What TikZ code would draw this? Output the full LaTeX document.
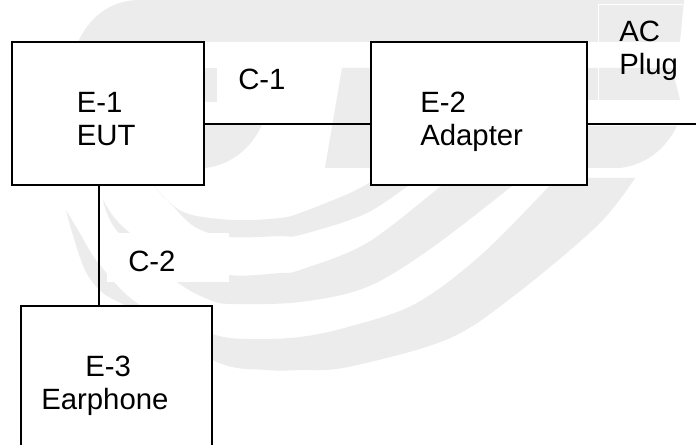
\documentclass[tikz,border=0pt]{standalone}
\usepackage{fontspec}
\setmainfont{Liberation Sans}
\tikzset{
  unitbox/.style={draw=black,line width=1.5pt,fill=white,anchor=north west,inner sep=0pt},
  wire/.style={draw=black,line width=1.5pt},
  lbl/.style={inner sep=0pt,anchor=base west,font=\fontsize{22}{24.4}\selectfont},
  wm/.style={fill=black!7.5,draw=none},
  curve/.style={smooth,tension=0.55}
}
\begin{document}
\begin{tikzpicture}[x=0.75pt,y=-0.75pt]
\useasboundingbox (0,0) rectangle (696,445);
\clip (0,0) rectangle (696,445);
\fill[white] (0,0) rectangle (696,445);
% watermark: top band
\fill[wm] (78,42) .. controls (88,20) and (108,0) .. (140,0) -- (684,0) -- (680,42) -- cycle;
% letter pieces
\fill[wm] (203,68) rectangle (217,102);
\fill[wm] (342,68) -- (672,68) -- (680,100) -- (500,100) -- (500,168) -- (325,168) -- cycle;
\fill[wm] (203,125) -- (262,125) .. controls (250,150) and (230,165) .. (205,168) -- (203,168) -- cycle;
\fill[wm] (580,126) -- (677,126) .. controls (665,150) and (645,165) .. (620,168) -- (580,168) -- cycle;
\draw[white,line width=0.5pt] (683,4) -- (598,4) -- (598,101) -- (680,101);
% band A
\fill[wm] plot[curve] coordinates {(153,185) (183,212) (233,220) (280,218) (300,213) (350,193) (378,178)}
  -- plot[curve] coordinates {(418,178) (367,213) (300,235) (280,236) (229,237) (195,227) (170,203) (153,185)} -- cycle;
% band B
\fill[wm] plot[curve] coordinates {(103,200) (122,226) (170,260) (229,275) (280,273) (300,270) (367,243) (440,187) (452,178)}
  -- plot[curve] coordinates {(522,178) (433,247) (367,287) (300,302) (233,304) (210,300) (177,282) (118,232) (103,200)} -- cycle;
% band C
\fill[wm] plot[curve] coordinates {(66,210) (78,230) (99,264) (140,305) (212,334) (250,339) (300,337) (348,327) (415,304) (481,255) (557,178)}
  -- plot[curve] coordinates {(635,178) (598,225) (515,295) (448,339) (348,367) (300,370) (267,370) (217,362) (137,312) (103,293) (85,270) (72,232) (66,210)} -- cycle;
% white label patch
\fill[white] (107,233) rectangle (229,282);
% boxes
\node[unitbox,minimum width=144pt,minimum height=107.25pt] (e1) at (10.5,41) {};
\node[unitbox,minimum width=162pt,minimum height=107.25pt] (e2) at (370,41) {};
\node[unitbox,minimum width=143.6pt,minimum height=120pt] (e3) at (19.5,305) {};
\coordinate (plug) at (696,124.5);
\draw[wire] (e1.east |- plug) -- (e2.west |- plug);
\draw[wire] (e2.east |- plug) -- (plug);
\coordinate (drop) at (99,0);
\draw[wire] (e1.south -| drop) -- (e3.north -| drop);
% labels
\node[lbl] (t1) at (76.5,113) {E-1};
\node[lbl] (t1b) at (76.5,146) {EUT};
\node[lbl] (t2) at (420,113) {E-2};
\node[lbl] (t2b) at (420,146) {Adapter};
\node[lbl] (t3) at (85,376) {E-3};
\node[lbl] (t3b) at (41,409) {Earphone};
\node[lbl] (c1) at (238,90) {C-1};
\node[lbl] (c2) at (128,272) {C-2};
\node[lbl] (ac) at (619,42) {AC};
\node[lbl] (acb) at (619,75) {Plug};
\end{tikzpicture}
\end{document}
